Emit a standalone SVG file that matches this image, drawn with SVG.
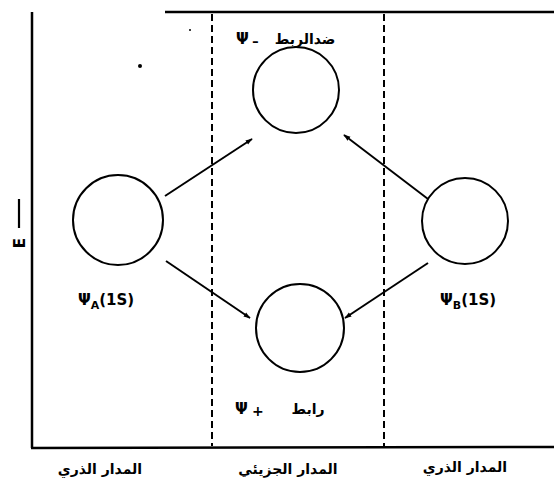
<svg xmlns="http://www.w3.org/2000/svg" width="554" height="483" viewBox="0 0 554 483">
<defs>
<marker id="ah" viewBox="0 0 10 10" refX="9" refY="5" markerWidth="7" markerHeight="7" orient="auto" markerUnits="userSpaceOnUse">
<path d="M0,1.5 L10,5 L0,8.5 Z" fill="#000"/>
</marker>
<style>
.ax{stroke:#000;stroke-width:2.5;fill:none}
.ds{stroke:#000;stroke-width:2;stroke-dasharray:7,4;fill:none}
.orb{stroke:#000;stroke-width:2;fill:#fff}
.ar{stroke:#000;stroke-width:2;fill:none;marker-end:url(#ah)}
.lb{font-family:"DejaVu Sans",sans-serif;font-weight:bold;font-size:15px;fill:#000}
.ar-t{font-family:"DejaVu Sans",sans-serif;font-weight:bold;font-size:14px;fill:#000}
</style>
</defs>
<rect width="554" height="483" fill="#fff"/>
<g id="frame">
<line class="ax" x1="32" y1="12" x2="32" y2="448"/>
<line class="ax" x1="165" y1="12" x2="554" y2="12"/>
<line class="ax" x1="31" y1="448" x2="554" y2="447"/>
<line class="ds" x1="212" y1="14" x2="212" y2="446"/>
<line class="ds" x1="384" y1="14" x2="384" y2="446"/>
<circle cx="140" cy="66" r="2" fill="#000"/>
<circle cx="190" cy="30" r="1" fill="#000"/>
<line x1="19" y1="199" x2="19" y2="228" stroke="#000" stroke-width="2.2"/>
<text class="lb" transform="translate(25,243) rotate(-90)" text-anchor="middle">E</text>
</g>
<g id="connectors">
<line class="ar" x1="165" y1="196" x2="252" y2="139"/>
<line class="ar" x1="428" y1="199" x2="344" y2="135"/>
<line class="ar" x1="166" y1="261" x2="250" y2="318"/>
<line class="ar" x1="428" y1="263" x2="345" y2="318"/>
</g>
<g id="psiA">
<circle class="orb" cx="118" cy="220" r="45"/>
<text class="lb" x="78" y="305">Ψ<tspan font-size="11" dy="4">A</tspan><tspan dy="-4">(1S)</tspan></text>
</g>
<g id="psiB">
<circle class="orb" cx="465" cy="221" r="43"/>
<text class="lb" x="440" y="305">Ψ<tspan font-size="11" dy="4">B</tspan><tspan dy="-4">(1S)</tspan></text>
</g>
<g id="antibonding">
<circle class="orb" cx="296" cy="90" r="43"/>
<text class="lb" x="236" y="44">Ψ</text>
<text class="ar-t" x="253" y="43">ـ</text>
<text class="ar-t" x="305" y="44" text-anchor="middle">ضدالربط</text>
</g>
<g id="bonding">
<circle class="orb" cx="300" cy="328" r="44"/>
<text class="lb" x="235" y="414">Ψ</text>
<text class="ar-t" x="252" y="416">+</text>
<text class="ar-t" x="308" y="414" text-anchor="middle">رابط</text>
</g>
<g id="labels">
<text class="ar-t" x="100" y="474" text-anchor="middle">المدار الذري</text>
<text class="ar-t" x="288" y="474" text-anchor="middle">المدار الجزيئي</text>
<text class="ar-t" x="465" y="472" text-anchor="middle">المدار الذري</text>
</g>
</svg>
